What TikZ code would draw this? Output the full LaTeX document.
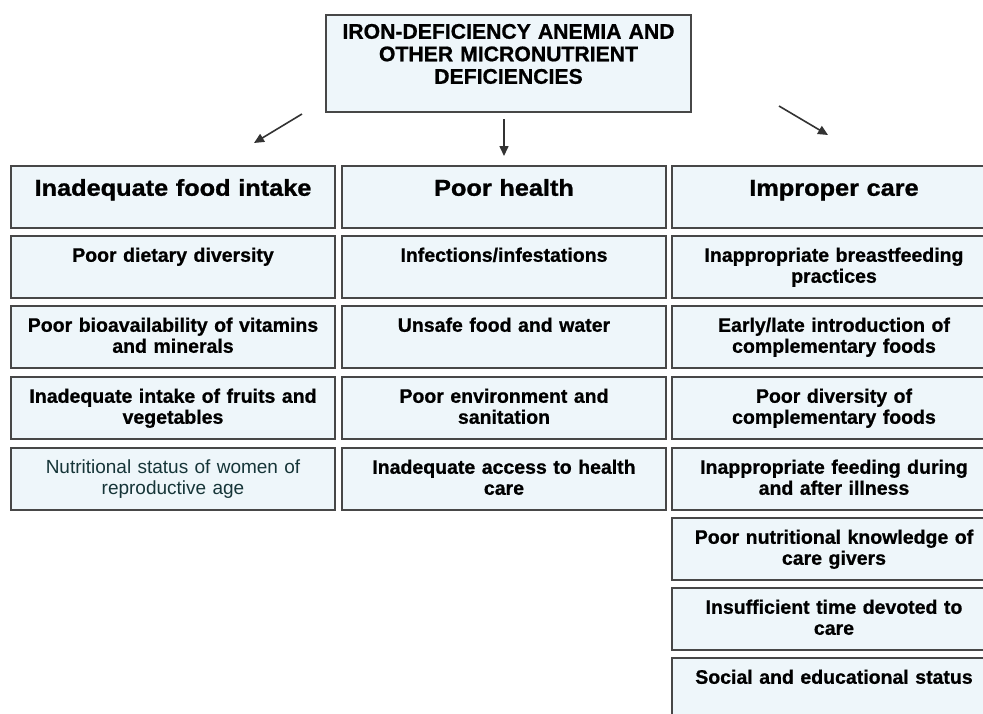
\documentclass[tikz,border=0pt]{standalone}
\usepackage{fontspec}
\setmainfont{Liberation Sans}[BoldFeatures={FakeBold=0.8}]
\newfontfamily\hdrfont{Liberation Sans}[FakeStretch=1.1, BoldFeatures={FakeBold=1.2}]
\usetikzlibrary{arrows.meta}
\definecolor{boxfill}{HTML}{EEF6FA}
\definecolor{boxline}{HTML}{474747}
\definecolor{arrowc}{HTML}{333333}
\definecolor{tealtext}{HTML}{163538}
\begin{document}
\begin{tikzpicture}[x=1pt,y=-1pt,
  box/.style={draw=boxline, line width=1.5pt, fill=boxfill, anchor=north,
    inner xsep=6pt, inner ysep=0pt, text width=312pt, align=center,
    font=\bfseries\fontsize{19.5}{21}\selectfont, text height=26pt, text depth=36pt},
  hdrbox/.style={box, font=\hdrfont\bfseries\fontsize{23}{25}\selectfont,
    text height=30pt, text depth=32pt},
  thinbox/.style={box, font=\fontsize{19}{21}\selectfont, text=tealtext},
  titlebox/.style={box, text width=353pt, font=\bfseries\fontsize{21.2}{22.5}\selectfont,
    text height=24pt, text depth=73pt},
  arr/.style={draw=arrowc, line width=1.6pt, -{Triangle[length=10pt,width=9pt]}}
]
\useasboundingbox (0,0) rectangle (983,713);
\clip (0,0) rectangle (983,713);

\node[titlebox] (title) at (508.5,14) {IRON-DEFICIENCY ANEMIA AND\\OTHER MICRONUTRIENT\\DEFICIENCIES};

% column 1
\node[hdrbox] (h1) at (173,165) {Inadequate food intake};
\node[box] (a1) at (173,235) {Poor dietary diversity};
\node[box] (a2) at (173,305) {Poor bioavailability of vitamins\\and minerals};
\node[box] (a3) at (173,376) {Inadequate intake of fruits and\\vegetables};
\node[thinbox] (a4) at (173,447) {Nutritional status of women of\\reproductive age};

% column 2
\node[hdrbox] (h2) at (504,165) {Poor health};
\node[box] (b1) at (504,235) {Infections/infestations};
\node[box] (b2) at (504,305) {Unsafe food and water};
\node[box] (b3) at (504,376) {Poor environment and\\sanitation};
\node[box] (b4) at (504,447) {Inadequate access to health\\care};

% column 3
\node[hdrbox] (h3) at (834,165) {Improper care};
\node[box] (c1) at (834,235) {Inappropriate breastfeeding\\practices};
\node[box] (c2) at (834,305) {Early/late introduction of\\complementary foods};
\node[box] (c3) at (834,376) {Poor diversity of\\complementary foods};
\node[box] (c4) at (834,447) {Inappropriate feeding during\\and after illness};
\node[box] (c5) at (834,517) {Poor nutritional knowledge of\\care givers};
\node[box] (c6) at (834,587) {Insufficient time devoted to\\care};
\node[box] (c7) at (834,657) {Social and educational status};

% arrows
\coordinate (l0) at (302,114);
\coordinate (l1) at (254,143);
\coordinate (m0) at (504,119);
\coordinate (m1) at (504,156);
\coordinate (r0) at (779,106);
\coordinate (r1) at (828,135);
\draw[arr] (l0) -- (l1);
\draw[arr] (m0) -- (m1);
\draw[arr] (r0) -- (r1);
\end{tikzpicture}
\end{document}
